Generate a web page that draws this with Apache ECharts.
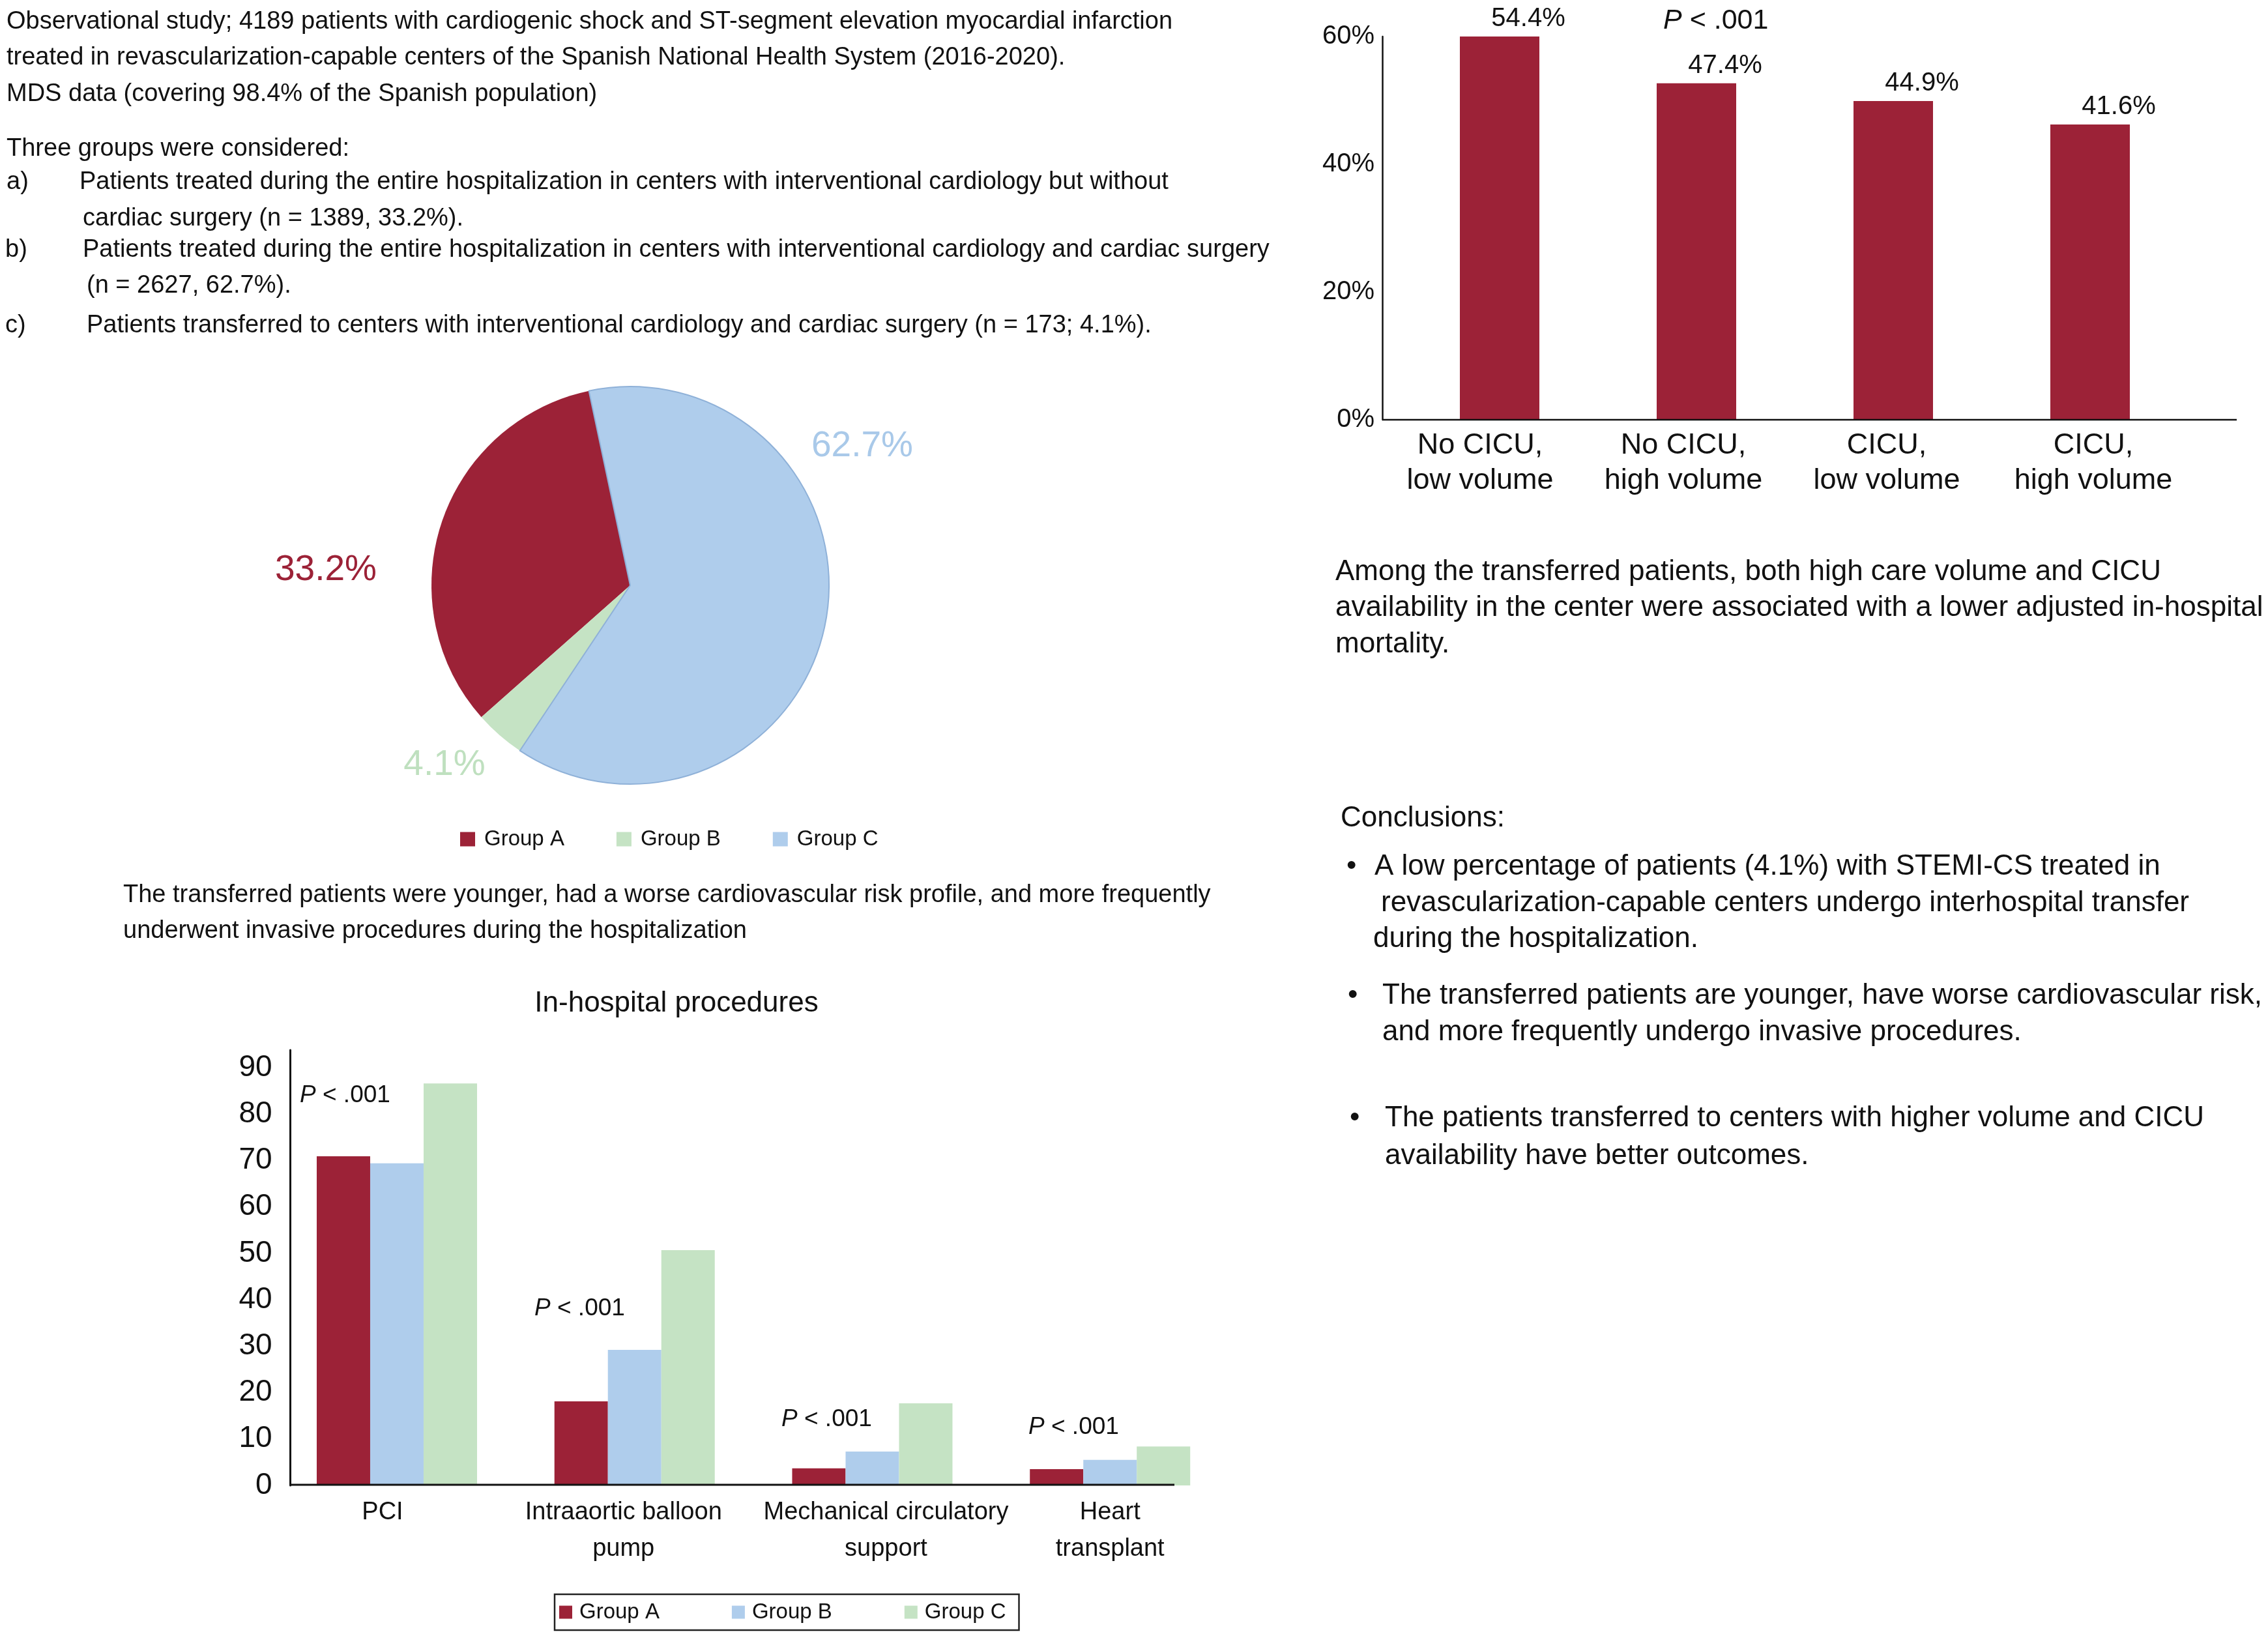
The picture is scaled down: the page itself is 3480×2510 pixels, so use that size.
<!DOCTYPE html>
<html>
<head>
<meta charset="utf-8">
<script src="https://cdn.jsdelivr.net/npm/echarts@6/dist/echarts.min.js"></script>
<style>html,body{margin:0;padding:0;background:#fff}#chart{width:3480px;height:2510px}</style>
</head>
<body>
<div id="chart"></div>
<script>
// ---------------- data ----------------
const groupNames = ['Group A', 'Group B', 'Group C'];
const pieShares = [33.2, 4.1, 62.7];

const mortalityCategories = ['No CICU,\nlow volume', 'No CICU,\nhigh volume', 'CICU,\nlow volume', 'CICU,\nhigh volume'];
const mortalityValues = [54.4, 47.4, 44.9, 41.6];
const mortalityTicks = [0, 20, 40, 60];

const procedureCategories = ['PCI', 'Intraaortic balloon\npump', 'Mechanical circulatory\nsupport', 'Heart\ntransplant'];
const procGroupA = [70.9, 18.1, 3.7, 3.5];
const procGroupB = [69.4, 29.2, 7.3, 5.5];
const procGroupC = [86.6, 50.7, 17.7, 8.4];
const procTicks = [0, 10, 20, 30, 40, 50, 60, 70, 80, 90];

// ---------------- style / layout ----------------
const FONT = "'Liberation Sans', Arial, Helvetica, sans-serif";
const RED = '#9C2237', BLUE = '#AFCDEC', GREEN = '#C5E3C4';
const pieColors = [RED, GREEN, BLUE];
const pieLabelColors = [RED, '#BFE0BF', '#A9C9E9'];
const barColors = [RED, BLUE, GREEN];
const INK = '#111';

// horizontal nudges of category labels (padding right / left)
const mortalityLabelPad = [[0, 60, 0, 0], [0, 40, 0, 0], [0, 20, 0, 0], [0, 0, 0, 10]];
const procLabelPad = [[0, 44, 0, 0], [0, 34, 0, 0], [0, 0, 0, 42], [0, 0, 0, 0]];

const topLeftText = [
  [10, 34, 'Observational study; 4189 patients with cardiogenic shock and ST-segment elevation myocardial infarction'],
  [10, 89, 'treated in revascularization-capable centers of the Spanish National Health System (2016-2020).'],
  [10, 145, 'MDS data (covering 98.4% of the Spanish population)'],
  [10, 229, 'Three groups were considered:'],
  [10, 280, 'a)'],
  [122, 280, 'Patients treated during the entire hospitalization in centers with interventional cardiology but without'],
  [127, 336, 'cardiac surgery (n = 1389, 33.2%).'],
  [8, 384, 'b)'],
  [127, 384, 'Patients treated during the entire hospitalization in centers with interventional cardiology and cardiac surgery'],
  [133, 439, '(n = 2627, 62.7%).'],
  [8, 500, 'c)'],
  [133, 500, 'Patients transferred to centers with interventional cardiology and cardiac surgery (n = 173; 4.1%).'],
  [189, 1374, 'The transferred patients were younger, had a worse cardiovascular risk profile, and more frequently'],
  [189, 1429, 'underwent invasive procedures during the hospitalization']
];
const rightText = [
  [2049, 878, 'Among the transferred patients, both high care volume and CICU'],
  [2049, 933, 'availability in the center were associated with a lower adjusted in-hospital'],
  [2049, 989, 'mortality.'],
  [2057, 1256, 'Conclusions:'],
  [2066, 1330, '\u2022'],
  [2109, 1330, 'A low percentage of patients (4.1%) with STEMI-CS treated in'],
  [2119, 1386, 'revascularization-capable centers undergo interhospital transfer'],
  [2107, 1441, 'during the hospitalization.'],
  [2068, 1528, '\u2022'],
  [2121, 1528, 'The transferred patients are younger, have worse cardiovascular risk,'],
  [2121, 1584, 'and more frequently undergo invasive procedures.'],
  [2071, 1716, '\u2022'],
  [2125, 1716, 'The patients transferred to centers with higher volume and CICU'],
  [2125, 1774, 'availability have better outcomes.']
];
const pieLabelAnchors = [[500, 875], [682, 1174], [1323, 685]];
const procPAnchors = [[460, 1681], [820, 2008], [1199, 2178], [1578, 2190]];

function txt(x, y, text, size, extra) {
  return { type: 'text', x: x, y: y, z: 50, silent: true,
    style: Object.assign({ text: text, fontSize: size, fontFamily: FONT, fill: INK, align: 'left', verticalAlign: 'middle' }, extra || {}) };
}
function pText(x, y, size) {
  return txt(x, y, '{i|P} < .001', size, { rich: { i: { fontStyle: 'italic', fontSize: size, fontFamily: FONT, fill: INK } } });
}

const graphics = [];
topLeftText.forEach(t => graphics.push(txt(t[0], t[1], t[2], 38)));
rightText.forEach(t => graphics.push(txt(t[0], t[1], t[2], 44)));
graphics.push(txt(1038, 1540, 'In-hospital procedures', 44, { align: 'center' }));
graphics.push(pText(2552, 32, 43));
procPAnchors.forEach(p => graphics.push(pText(p[0], p[1], 37)));
// axis base lines
graphics.push({ type: 'line', z: 100, silent: true, shape: { x1: 2121, y1: 644, x2: 3432, y2: 644 }, style: { stroke: INK, lineWidth: 2.5 } });
graphics.push({ type: 'line', z: 100, silent: true, shape: { x1: 445, y1: 2278, x2: 1802, y2: 2278 }, style: { stroke: INK, lineWidth: 3 } });

const chart = echarts.init(document.getElementById('chart'), null, { renderer: 'canvas' });
chart.setOption({
  backgroundColor: '#fff',
  animation: false,
  textStyle: { fontFamily: FONT },
  graphic: graphics,
  legend: [
    {
      left: 706, top: 1271, orient: 'horizontal', padding: 0,
      itemWidth: 23, itemHeight: 22, itemGap: 80, icon: 'rect',
      textStyle: { fontSize: 33, fontFamily: FONT, color: INK, padding: [0, 0, 0, 9] },
      data: groupNames.map((n, i) => ({ name: n, itemStyle: { color: pieColors[i] } })),
      selectedMode: false
    },
    {
      left: 851, top: 2446, orient: 'horizontal', padding: [11, 20, 11, 7],
      borderColor: '#222', borderWidth: 2.5,
      itemWidth: 20, itemHeight: 20, itemGap: 111, icon: 'rect',
      textStyle: { fontSize: 33, fontFamily: FONT, color: INK, padding: [0, 0, 0, 6] },
      data: groupNames.map((n, i) => ({ name: n, itemStyle: { color: barColors[i] } })),
      selectedMode: false
    }
  ],
  grid: [
    { left: 2150, top: 56, width: 1208, height: 588 },
    { left: 426.6, top: 1611, width: 1459, height: 668 }
  ],
  xAxis: [
    {
      type: 'category', gridIndex: 0,
      data: mortalityCategories.map((c, i) => ({ value: c, textStyle: { padding: mortalityLabelPad[i] } })),
      axisLine: { show: false }, axisTick: { show: false },
      axisLabel: { interval: 0, fontSize: 45, lineHeight: 54, margin: 13, color: INK, fontFamily: FONT }
    },
    {
      type: 'category', gridIndex: 1,
      data: procedureCategories.map((c, i) => ({ value: c, textStyle: { padding: procLabelPad[i] } })),
      axisLine: { show: false }, axisTick: { show: false },
      axisLabel: { interval: 0, fontSize: 38, lineHeight: 56, margin: 14, color: INK, fontFamily: FONT }
    }
  ],
  yAxis: [
    {
      type: 'value', gridIndex: 0, min: mortalityTicks[0], max: mortalityTicks[mortalityTicks.length - 1], interval: 20,
      offset: 29, splitLine: { show: false }, axisTick: { show: false },
      axisLine: { show: true, lineStyle: { color: INK, width: 2.5 } },
      axisLabel: { formatter: '{value}%', fontSize: 40, margin: 12, color: INK, fontFamily: FONT }
    },
    {
      // bar scale of the published figure (bars are drawn taller than their printed values)
      type: 'value', gridIndex: 0, min: 0, max: 54, show: false
    },
    {
      type: 'value', gridIndex: 1, min: procTicks[0], max: 93.8, interval: 10,
      offset: -19, splitLine: { show: false }, axisTick: { show: false },
      axisLine: { show: true, lineStyle: { color: INK, width: 3 } },
      axisLabel: { fontSize: 46, margin: 28, color: INK, fontFamily: FONT, showMaxLabel: false }
    }
  ],
  series: [
    {
      type: 'pie', name: 'Groups', center: [967, 898], radius: 305,
      startAngle: 102, clockwise: false, avoidLabelOverlap: false,
      label: { show: true, position: 'outside', formatter: '{c}%', fontSize: 55, fontFamily: FONT },
      labelLine: { show: false },
      labelLayout: function (params) {
        const p = pieLabelAnchors[params.dataIndex];
        return { x: p[0], y: p[1], align: 'center', verticalAlign: 'middle' };
      },
      emphasis: { disabled: true },
      data: groupNames.map((n, i) => ({
        name: n, value: pieShares[i],
        itemStyle: { color: pieColors[i], borderColor: i === 2 ? '#8FB1D8' : pieColors[i], borderWidth: i === 2 ? 2 : 0 },
        label: { color: pieLabelColors[i] }
      }))
    },
    {
      type: 'bar', name: 'Mortality', xAxisIndex: 0, yAxisIndex: 1,
      data: mortalityValues, barWidth: 122,
      itemStyle: { color: RED },
      label: { show: true, position: 'top', distance: 12, offset: [44, 5], formatter: '{c}%', fontSize: 40, color: INK, fontFamily: FONT },
      emphasis: { disabled: true }
    },
    {
      type: 'bar', name: groupNames[0], xAxisIndex: 1, yAxisIndex: 2,
      data: procGroupA, barWidth: 82, barGap: '0%', itemStyle: { color: barColors[0] }, emphasis: { disabled: true }
    },
    {
      type: 'bar', name: groupNames[1], xAxisIndex: 1, yAxisIndex: 2,
      data: procGroupB, barWidth: 82, barGap: '0%', itemStyle: { color: barColors[1] }, emphasis: { disabled: true }
    },
    {
      type: 'bar', name: groupNames[2], xAxisIndex: 1, yAxisIndex: 2,
      data: procGroupC, barWidth: 82, barGap: '0%', itemStyle: { color: barColors[2] }, emphasis: { disabled: true }
    }
  ]
});
</script>
</body>
</html>
